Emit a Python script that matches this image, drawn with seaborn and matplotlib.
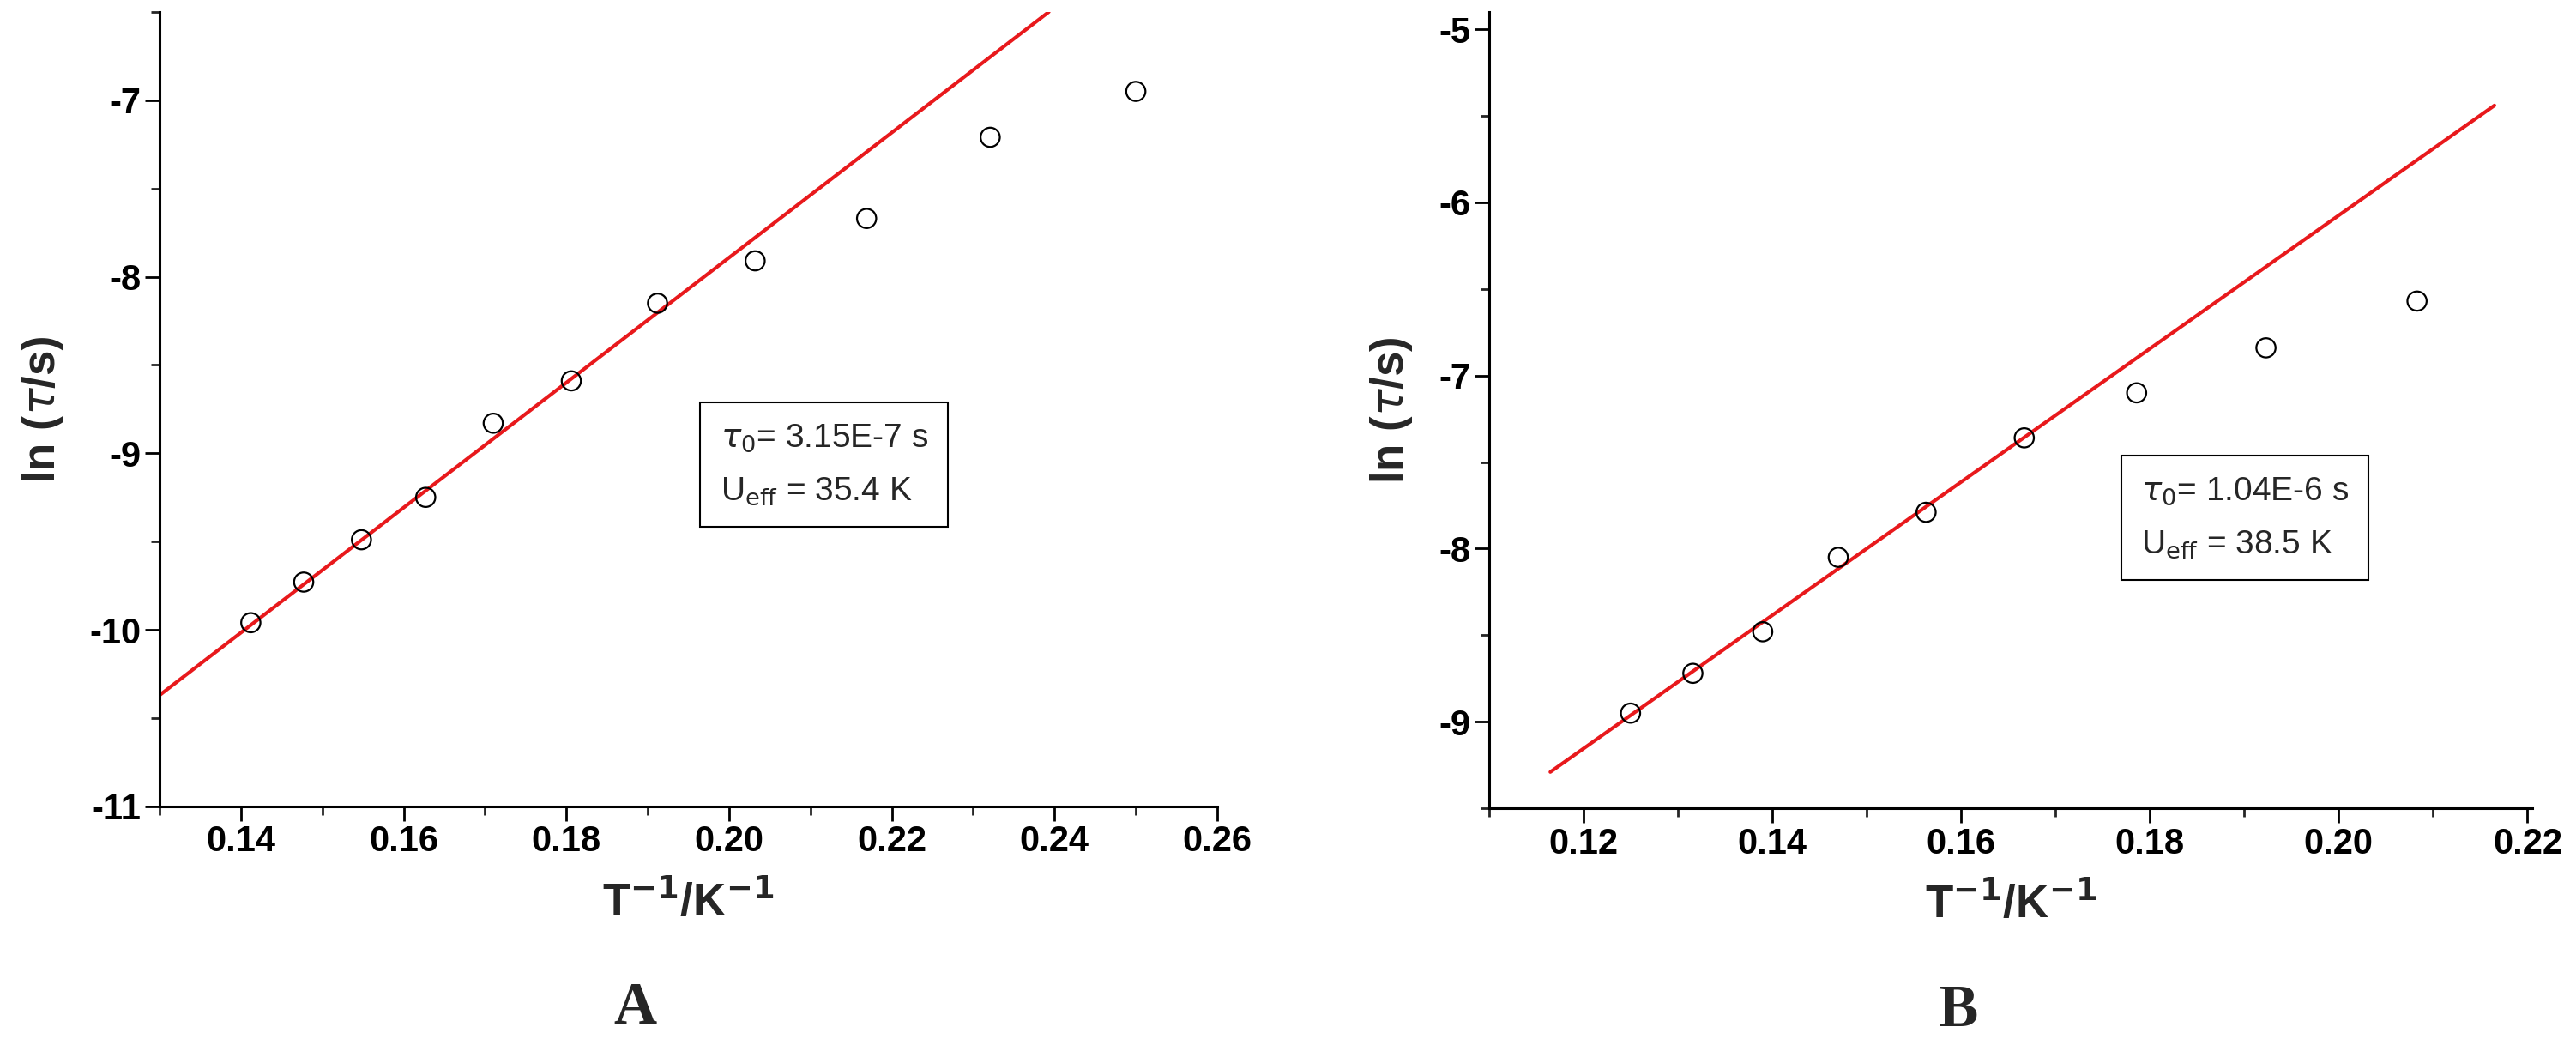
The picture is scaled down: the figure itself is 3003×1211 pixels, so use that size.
import matplotlib
matplotlib.use("Agg")
import matplotlib.pyplot as plt
import seaborn as sns
import pandas as pd
from matplotlib.ticker import MultipleLocator

sns.set_theme(style="ticks")
plt.rcParams['font.family'] = ['Liberation Sans', 'DejaVu Sans']

# Panel A data
xA = [0.1412, 0.1477, 0.1548, 0.1627, 0.1710, 0.1806, 0.1912, 0.2032, 0.2169, 0.2321, 0.2500]
yA = [-9.96, -9.73, -9.49, -9.25, -8.83, -8.59, -8.15, -7.91, -7.67, -7.21, -6.95]
fitA_x = [0.130, 0.2393]
fitA_y = [-10.37, -6.50]
# Panel B data
xB = [0.1250, 0.1316, 0.1390, 0.1470, 0.1563, 0.1667, 0.1786, 0.1923, 0.2083]
yB = [-8.95, -8.72, -8.48, -8.05, -7.79, -7.36, -7.10, -6.84, -6.57]
fitB_x = [0.1165, 0.2165]
fitB_y = [-9.29, -5.44]

fig = plt.figure(figsize=(30.03, 12.11), dpi=100)
axA = fig.add_axes([0.062, 0.224, 0.4105, 0.7645])
axB = fig.add_axes([0.578, 0.222, 0.405, 0.7665])

def draw(ax, x, y, fx, fy, xlim, ylim, xmaj, ymaj, text, tpos, letter):
    sns.lineplot(x=fx, y=fy, ax=ax, color='#e8191c', linewidth=3, zorder=2)
    sns.scatterplot(x=x, y=y, ax=ax, marker='o', s=260, facecolor='none',
                    edgecolor='black', linewidth=1.6, zorder=3)
    ax.set_xlim(*xlim); ax.set_ylim(*ylim)
    ax.xaxis.set_major_locator(MultipleLocator(xmaj))
    ax.xaxis.set_minor_locator(MultipleLocator(xmaj / 2))
    ax.yaxis.set_major_locator(MultipleLocator(ymaj))
    ax.yaxis.set_minor_locator(MultipleLocator(ymaj / 2))
    ax.xaxis.set_major_formatter(plt.FuncFormatter(lambda v, p: f"{v:.2f}"))
    ax.yaxis.set_major_formatter(plt.FuncFormatter(lambda v, p: f"{v:g}"))
    for s in ['top', 'right']:
        ax.spines[s].set_visible(False)
    for s in ['left', 'bottom']:
        ax.spines[s].set_linewidth(2.2); ax.spines[s].set_color('black')
    ax.tick_params(which='major', direction='out', length=12, width=2, labelsize=30, colors='black')
    ax.tick_params(which='minor', direction='out', length=7, width=2)
    for lab in ax.get_xticklabels() + ax.get_yticklabels():
        lab.set_fontweight('bold')
    ax.set_xlabel(r"T$^{\mathbf{-1}}$/K$^{\mathbf{-1}}$", fontsize=38, fontweight='bold', labelpad=18)
    ax.set_ylabel(r"ln ($\tau$/s)", fontsize=38, fontweight='bold', labelpad=20)
    ax.text(tpos[0], tpos[1], text, transform=ax.transAxes, fontsize=28, va='center', ha='left',
            linespacing=1.9,
            bbox=dict(boxstyle='square,pad=0.6', facecolor='white', edgecolor='black', linewidth=1.5))
    ax.text(0.45, -0.255, letter, transform=ax.transAxes, fontsize=50, fontweight='bold',
            family='Liberation Serif', ha='center', va='center')

draw(axA, xA, yA, fitA_x, fitA_y, (0.13, 0.26), (-11, -6.5), 0.02, 1.0,
     r"$\tau_0$= 3.15E-7 s" + "\n" + r"U$_{\rm eff}$ = 35.4 K", (0.53, 0.43), "A")
draw(axB, xB, yB, fitB_x, fitB_y, (0.11, 0.2205), (-9.5, -4.9), 0.02, 1.0,
     r"$\tau_0$= 1.04E-6 s" + "\n" + r"U$_{\rm eff}$ = 38.5 K", (0.625, 0.365), "B")

fig.savefig("out.png", dpi=100)
